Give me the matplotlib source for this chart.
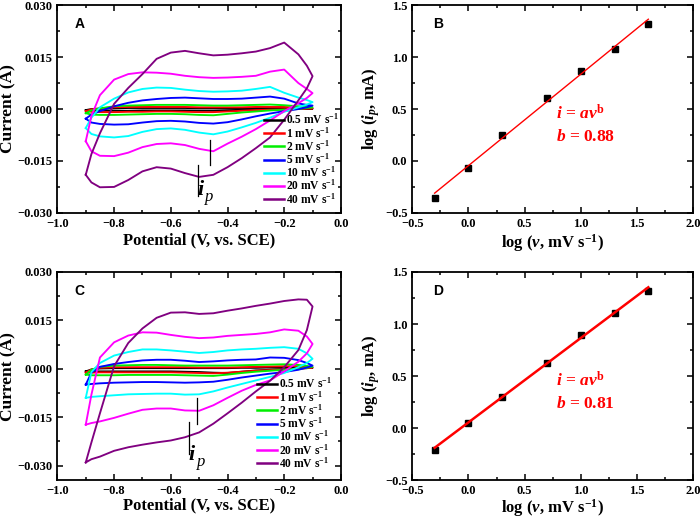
import numpy as np
import matplotlib
matplotlib.use("Agg")
import matplotlib.pyplot as plt
from matplotlib.ticker import AutoMinorLocator, MultipleLocator

plt.rcParams['font.family'] = 'serif'
plt.rcParams['font.serif'] = ['Liberation Serif']
plt.rcParams['font.weight'] = 'bold'
plt.rcParams['axes.labelweight'] = 'bold'
plt.rcParams['mathtext.fontset'] = 'custom'
plt.rcParams['mathtext.rm'] = 'Liberation Serif:bold'
plt.rcParams['mathtext.it'] = 'Liberation Serif:italic:bold'
plt.rcParams['mathtext.bf'] = 'Liberation Serif:bold'
plt.rcParams['axes.linewidth'] = 1.3

# ---- data ----
rates = ['0.5', '1', '2', '5', '10', '20', '40']
colors = ['black', 'red', '#00ee00', 'blue', 'cyan', 'magenta', 'purple']
potential = [-0.9, -0.88, -0.85, -0.8, -0.75, -0.7, -0.65, -0.6, -0.55, -0.5,
             -0.45, -0.4, -0.35, -0.3, -0.25, -0.2, -0.15, -0.12, -0.1]

# panel A: anodic (upper) and cathodic (lower) branches, current in A
a_upper = [
    [-0.0003, 0.0000, 0.0001, 0.0002, 0.0003, 0.0003, 0.0003, 0.0003, 0.0003, 0.0002, 0.0002, 0.0002, 0.0002, 0.0003, 0.0003, 0.0003, 0.0002, 0.0002, 0.0001],
    [-0.0006, -0.0001, 0.0002, 0.0005, 0.0006, 0.0006, 0.0006, 0.0006, 0.0006, 0.0005, 0.0005, 0.0005, 0.0005, 0.0006, 0.0006, 0.0006, 0.0004, 0.0003, 0.0002],
    [-0.0012, -0.0004, 0.0002, 0.0008, 0.0010, 0.0011, 0.0012, 0.0012, 0.0012, 0.0011, 0.0010, 0.0010, 0.0011, 0.0012, 0.0013, 0.0011, 0.0008, 0.0006, 0.0005],
    [-0.0028, -0.0016, -0.0006, 0.0008, 0.0018, 0.0025, 0.0029, 0.0032, 0.0033, 0.0031, 0.0029, 0.0029, 0.0030, 0.0033, 0.0036, 0.0030, 0.0016, 0.0012, 0.0010],
    [-0.0055, -0.0025, 0.0005, 0.0030, 0.0048, 0.0058, 0.0062, 0.0061, 0.0056, 0.0052, 0.0050, 0.0051, 0.0053, 0.0058, 0.0064, 0.0047, 0.0033, 0.0026, 0.0020],
    [-0.0093, -0.0020, 0.0040, 0.0085, 0.0101, 0.0106, 0.0105, 0.0102, 0.0096, 0.0092, 0.0090, 0.0091, 0.0093, 0.0096, 0.0108, 0.0114, 0.0075, 0.0058, 0.0046],
    [-0.0190, -0.0130, -0.0070, 0.0015, 0.0061, 0.0101, 0.0145, 0.0163, 0.0168, 0.0161, 0.0155, 0.0157, 0.0161, 0.0166, 0.0176, 0.0192, 0.0158, 0.0125, 0.0095],
]
a_lower = [
    [-0.0003, -0.0004, -0.0005, -0.0005, -0.0005, -0.0004, -0.0004, -0.0004, -0.0004, -0.0005, -0.0005, -0.0004, -0.0003, -0.0002, -0.0001, 0.0000, 0.0001, 0.0001, 0.0001],
    [-0.0006, -0.0008, -0.0009, -0.0009, -0.0008, -0.0008, -0.0007, -0.0007, -0.0008, -0.0009, -0.0009, -0.0007, -0.0005, -0.0003, -0.0002, -0.0001, 0.0000, 0.0001, 0.0002],
    [-0.0012, -0.0016, -0.0017, -0.0017, -0.0016, -0.0015, -0.0014, -0.0014, -0.0015, -0.0017, -0.0018, -0.0014, -0.0010, -0.0007, -0.0004, -0.0002, 0.0000, 0.0003, 0.0005],
    [-0.0028, -0.0039, -0.0043, -0.0045, -0.0044, -0.0039, -0.0035, -0.0034, -0.0036, -0.0040, -0.0042, -0.0038, -0.0030, -0.0021, -0.0013, -0.0006, 0.0000, 0.0005, 0.0010],
    [-0.0055, -0.0072, -0.0079, -0.0082, -0.0078, -0.0066, -0.0058, -0.0056, -0.0060, -0.0068, -0.0073, -0.0065, -0.0053, -0.0040, -0.0025, -0.0008, 0.0005, 0.0013, 0.0020],
    [-0.0093, -0.0122, -0.0135, -0.0136, -0.0126, -0.0110, -0.0101, -0.0099, -0.0104, -0.0115, -0.0122, -0.0100, -0.0080, -0.0058, -0.0033, -0.0006, 0.0017, 0.0032, 0.0046],
    [-0.0190, -0.0212, -0.0226, -0.0225, -0.0205, -0.0180, -0.0168, -0.0172, -0.0185, -0.0196, -0.0190, -0.0168, -0.0142, -0.0113, -0.0082, -0.0031, 0.0025, 0.0060, 0.0095],
]

# panel C
c_upper = [
    [-0.0008, -0.0002, 0.0001, 0.0002, 0.0002, 0.0002, 0.0002, 0.0002, 0.0002, 0.0002, 0.0002, 0.0002, 0.0003, 0.0003, 0.0004, 0.0005, 0.0005, 0.0004, 0.0003],
    [-0.0012, -0.0002, 0.0003, 0.0005, 0.0005, 0.0005, 0.0005, 0.0005, 0.0005, 0.0004, 0.0004, 0.0004, 0.0005, 0.0006, 0.0007, 0.0008, 0.0008, 0.0006, 0.0004],
    [-0.0018, -0.0003, 0.0006, 0.0010, 0.0011, 0.0012, 0.0012, 0.0011, 0.0010, 0.0010, 0.0010, 0.0010, 0.0011, 0.0012, 0.0013, 0.0014, 0.0012, 0.0009, 0.0006],
    [-0.0049, -0.0012, 0.0006, 0.0015, 0.0021, 0.0026, 0.0028, 0.0028, 0.0025, 0.0021, 0.0023, 0.0026, 0.0028, 0.0029, 0.0035, 0.0034, 0.0027, 0.0018, 0.0010],
    [-0.0090, -0.0010, 0.0018, 0.0041, 0.0052, 0.0060, 0.0060, 0.0057, 0.0053, 0.0049, 0.0052, 0.0057, 0.0060, 0.0062, 0.0065, 0.0067, 0.0062, 0.0048, 0.0031],
    [-0.0173, -0.0080, 0.0035, 0.0082, 0.0103, 0.0113, 0.0112, 0.0105, 0.0099, 0.0095, 0.0097, 0.0102, 0.0105, 0.0108, 0.0113, 0.0122, 0.0118, 0.0100, 0.0077],
    [-0.0290, -0.0228, -0.0138, 0.0008, 0.0080, 0.0125, 0.0158, 0.0174, 0.0175, 0.0170, 0.0172, 0.0180, 0.0187, 0.0195, 0.0202, 0.0210, 0.0215, 0.0214, 0.0193],
]
c_lower = [
    [-0.0008, -0.0008, -0.0008, -0.0008, -0.0008, -0.0008, -0.0008, -0.0008, -0.0009, -0.0010, -0.0012, -0.0013, -0.0009, -0.0005, -0.0003, -0.0001, 0.0001, 0.0002, 0.0003],
    [-0.0012, -0.0012, -0.0011, -0.0011, -0.0011, -0.0011, -0.0011, -0.0011, -0.0012, -0.0013, -0.0014, -0.0012, -0.0009, -0.0006, -0.0004, -0.0002, 0.0000, 0.0002, 0.0004],
    [-0.0018, -0.0020, -0.0020, -0.0020, -0.0019, -0.0019, -0.0019, -0.0019, -0.0020, -0.0021, -0.0022, -0.0018, -0.0013, -0.0009, -0.0006, -0.0003, 0.0000, 0.0003, 0.0006],
    [-0.0049, -0.0047, -0.0045, -0.0043, -0.0042, -0.0041, -0.0041, -0.0042, -0.0043, -0.0042, -0.0040, -0.0034, -0.0027, -0.0021, -0.0015, -0.0010, -0.0003, 0.0004, 0.0010],
    [-0.0090, -0.0087, -0.0085, -0.0082, -0.0079, -0.0078, -0.0077, -0.0077, -0.0080, -0.0079, -0.0070, -0.0058, -0.0047, -0.0036, -0.0025, -0.0013, 0.0005, 0.0018, 0.0031],
    [-0.0173, -0.0168, -0.0163, -0.0152, -0.0139, -0.0127, -0.0123, -0.0123, -0.0129, -0.0130, -0.0113, -0.0090, -0.0068, -0.0050, -0.0036, -0.0008, 0.0022, 0.0048, 0.0077],
    [-0.0290, -0.0280, -0.0272, -0.0254, -0.0243, -0.0235, -0.0228, -0.0222, -0.0212, -0.0197, -0.0170, -0.0138, -0.0105, -0.0070, -0.0037, 0.0005, 0.0058, 0.0120, 0.0193],
]

# panels B and D: log peak current vs log scan rate
log_v = [-0.301, 0.0, 0.301, 0.699, 1.0, 1.301, 1.602]
log_ip_b = [-0.36, -0.07, 0.25, 0.61, 0.87, 1.08, 1.32]
log_ip_d = [-0.21, 0.05, 0.30, 0.63, 0.89, 1.11, 1.32]
slope_b, icpt_b = 0.88, -0.045
slope_d, icpt_d = 0.81, 0.055


def fmt(n):
    return lambda v, p: f'{v:.{n}f}'.replace('-', '\u2212')


def style_axes(ax):
    ax.tick_params(which='both', direction='in', top=True, right=True,
                   labelsize=9, width=1.1)
    ax.tick_params(which='major', length=4)
    ax.tick_params(which='minor', length=2.2)
    ax.xaxis.set_minor_locator(AutoMinorLocator(2))
    ax.yaxis.set_minor_locator(AutoMinorLocator(2))


def cv_panel(ax, upper, lower, ylim, letter, ip_lines, ip_text, lpad, anchor):
    for k in range(len(rates)):
        x = potential + potential[::-1]
        y = upper[k] + lower[k][::-1]
        ax.plot(x, y, color=colors[k], lw=1.35,
                label=rates[k] + r' mV s$^{-1}$')
    ax.set_xlim(-1.0, 0.0)
    ax.set_ylim(*ylim)
    ax.xaxis.set_major_locator(MultipleLocator(0.2))
    ax.set_yticks([-0.030, -0.015, 0.0, 0.015, 0.030])
    ax.set_xlabel('Potential (V, vs. SCE)', fontsize=12, labelpad=lpad)
    ax.set_ylabel('Current (A)', fontsize=12.5, labelpad=1)
    ax.yaxis.set_major_formatter(fmt(3))
    ax.xaxis.set_major_formatter(fmt(1))
    for (xv, y0, y1) in ip_lines:
        ax.plot([xv, xv], [y0, y1], color='black', lw=0.9)
    ax.text(ip_text[0], ip_text[1], 'i', fontsize=16, style='italic',
            fontweight='bold')
    ax.text(ip_text[0] + 0.028, ip_text[1] - 0.0018, 'p', fontsize=12,
            style='italic', fontweight='normal')
    ax.text(0.077, 0.91, letter, transform=ax.transAxes, fontsize=10,
            family='Liberation Sans', fontweight='bold', ha='center', va='center')
    leg = ax.legend(loc='lower right', frameon=False, fontsize=8.3,
                    handlelength=1.75, handletextpad=0.2, labelspacing=-0.12,
                    borderaxespad=0.0, bbox_to_anchor=anchor)
    for h in leg.get_lines():
        h.set_linewidth(1.8)
    style_axes(ax)


def fit_panel(ax, logip, slope, icpt, letter, btext, lw, lpad):
    ax.plot(log_v, logip, 's', color='black', ms=4)
    xf = np.array([log_v[0], log_v[-1]])
    ax.plot(xf, slope * xf + icpt, color='red', lw=lw)
    ax.set_xlim(-0.5, 2.0)
    ax.set_ylim(-0.5, 1.5)
    ax.xaxis.set_major_locator(MultipleLocator(0.5))
    ax.yaxis.set_major_locator(MultipleLocator(0.5))
    ax.xaxis.set_major_formatter(fmt(1))
    ax.yaxis.set_major_formatter(fmt(1))
    ax.set_xlabel(r'log ($\nu$, mV s$^{-1}$)', fontsize=12, labelpad=lpad)
    ax.set_ylabel(r'log ($i_p$, mA)', fontsize=12, labelpad=2)
    ax.text(0.78, 0.40, r'$i$ = $av^{\mathrm{b}}$', color='red', fontsize=12.5)
    ax.text(0.78, 0.19, r'$b$ = ' + btext, color='red', fontsize=12.5,
            fontweight='bold')
    ax.text(0.093, 0.91, letter, transform=ax.transAxes, fontsize=10,
            family='Liberation Sans', fontweight='bold', ha='center', va='center')
    style_axes(ax)


fig = plt.figure(figsize=(7.0, 5.18), dpi=100)
axA = fig.add_axes([0.082, 0.589, 0.405, 0.401])
axB = fig.add_axes([0.589, 0.589, 0.401, 0.401])
axC = fig.add_axes([0.082, 0.073, 0.405, 0.402])
axD = fig.add_axes([0.589, 0.073, 0.401, 0.402])

cv_panel(axA, a_upper, a_lower, (-0.030, 0.030), 'A',
         [(-0.504, -0.0161, -0.0252), (-0.463, -0.0089, -0.0163)],
         (-0.507, -0.0248), 2, (1.01, 0.01))
fit_panel(axB, log_ip_b, slope_b, icpt_b, 'B', '0.88', 1.0, 2)
cv_panel(axC, c_upper, c_lower, (-0.0345, 0.030), 'C',
         [(-0.535, -0.0166, -0.0265), (-0.509, -0.009, -0.017)],
         (-0.537, -0.0283), 0, (0.985, 0.025))
fit_panel(axD, log_ip_d, slope_d, icpt_d, 'D', '0.81', 1.8, 0)

plt.savefig('out.png', dpi=100)
plt.close()
